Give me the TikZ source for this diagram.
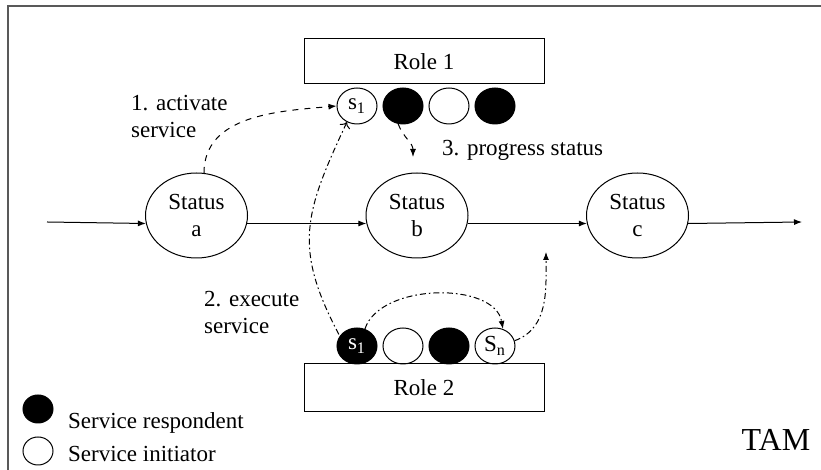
\documentclass[tikz,border=0pt]{standalone}
\usepackage{fontspec}
\setmainfont{Liberation Serif}
\usetikzlibrary{positioning,arrows.meta,shapes.geometric}
\tikzset{
  status/.style={
    ellipse, draw,
    minimum width=51pt,
    minimum height=42.5pt,
    inner sep=0pt,
    align=center,
  },
  role box/.style={
    draw,
    minimum width=120pt,
    minimum height={#1},
  },
  service/.style={
    ellipse, draw,
    minimum width=20pt,
    minimum height=18pt,
    inner sep=0pt,
  },
  respondent/.style={
    service,
    fill=black,
    text=white,
  },
  legend mark/.style={
    ellipse, draw,
    minimum width=15pt,
    minimum height=14pt,
    inner sep=0pt,
  },
  annotation/.style={
    anchor=west,
    align=left,
  },
  flow/.style={-{Latex[length=4pt,width=3pt]}},
  activation/.style={flow, dashed},
  execution/.style={flow, dash pattern=on 3pt off 1.5pt on 0.8pt off 1.5pt},
}

\begin{document}
\begin{tikzpicture}[x=0.5pt, y=0.5pt, line width=0.5pt, node distance=2.5pt,
    font=\fontsize{11.5}{13.5}\selectfont]
        \useasboundingbox (0,0) rectangle (821,470);
        \draw [black!65, line width=0.9pt] (8,0) -- (8,464) -- (821,464);

        \node [role box=22.5pt] (role1) at (424,408.5) {Role 1};
        \node [role box=24pt] (role2) at (424,82) {Role 2};

        \node [service] (s1t) at (357,364) {s\textsubscript{1}};
        \node [respondent, right=of s1t] (r2t) {};
        \node [service, right=of r2t] (i3t) {};
        \node [respondent, right=of i3t] (r4t) {};

        \node [respondent] (s1b) at (357,124) {s\textsubscript{1}};
        \node [service, right=of s1b] (i2b) {};
        \node [respondent, right=of i2b] (r3b) {};
        \node [service, right=of r3b] (snb) {S\textsubscript{n}};

        \node [status] (sa) at (196.5,254.5) {Status\\a};
        \node [status] (sb) at (417,254.5) {Status\\b};
        \node [status] (sc) at (637.5,254.5) {Status\\c};

        \coordinate (in) at (47,248);
        \coordinate (out) at (802,248);
        \coordinate (prg) at (413,313);
        \coordinate (cend) at (546,218);

        \draw [flow] (in) -- (sa.189);
        \draw [flow] (sa.-9) -- (sb.189);
        \draw [flow] (sb.-9) -- (sc.189);
        \draw [flow] (sc.-9) -- (out);

        % service calls
        \draw [activation] (sa.80) to[out=90, in=185] (s1t.west);
        \draw [activation] (r2t.255) to[out=-70, in=90] (prg);
        \draw [execution, <-] (s1t.238) to[out=245, in=118, looseness=1.2] (s1b.150);
        \draw [execution] (s1b.65) to[out=72, in=100, looseness=0.9] (snb.65);
        \draw [execution] (snb.15) to[out=20, in=-90] (cend);

        \node [annotation] (lact) at (124,353) {1. activate\\service};
        \node [annotation] (lprg) at (435,320) {3. progress status};
        \node [annotation] (lexe) at (197,157) {2. execute\\service};

        % legend
        \node [legend mark, fill=black] (kresp) at (38,61) {};
        \node [annotation] (tresp) at (61,47) {Service respondent};
        \node [legend mark] (kinit) at (38,19) {};
        \node [annotation] (tinit) at (61,16) {Service initiator};

        \node [font=\fontsize{16}{18}\selectfont] (tam) at (776,30) {TAM};
      \end{tikzpicture}
\end{document}
